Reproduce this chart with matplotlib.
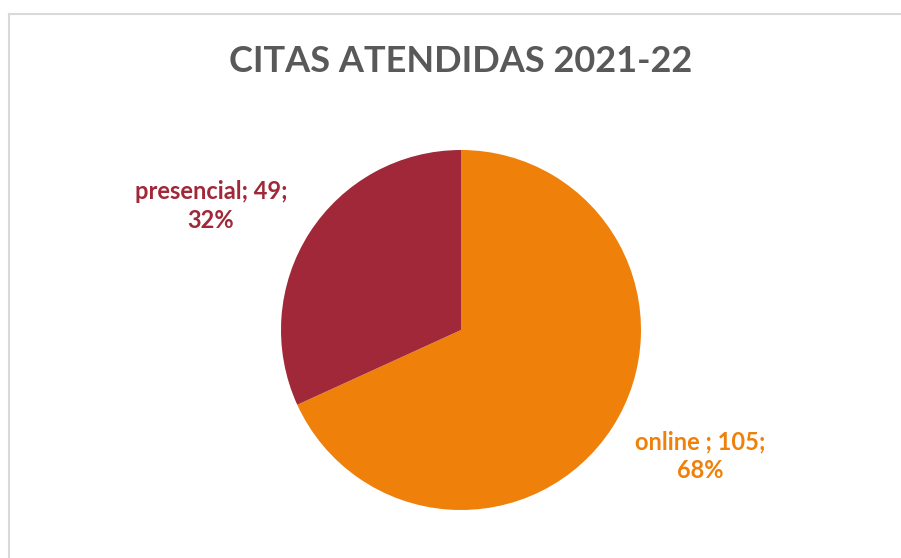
import matplotlib.pyplot as plt
from matplotlib.lines import Line2D

# Data
categories = ['online ', 'presencial']
values = [105, 49]
colors = ['#EF8009', '#A02838']

title = 'CITAS ATENDIDAS 2021-22'
font = 'Lato'

fig = plt.figure(figsize=(9.01, 5.58), dpi=100)
ax = fig.add_axes([0, 0, 1, 1])

# Pie in pixel-like data coordinates (y up)
ax.pie(values, colors=colors, startangle=90, counterclock=False,
       center=(461, 228), radius=180, wedgeprops=dict(linewidth=0))
ax.set_xlim(0, 901)
ax.set_ylim(0, 558)
ax.set_aspect('equal')
ax.axis('off')

# Data labels
total = sum(values)
label_pos = [(700, 102), (211, 352)]
for cat, val, col, (lx, ly) in zip(categories, values, colors, label_pos):
    pct = round(100 * val / total)
    ax.text(lx, ly, f'{cat}; {val};\n{pct}%', color=col, fontsize=17,
            fontweight='bold', family=font, ha='center', va='center',
            linespacing=1.32)

# Title
ax.text(461, 496, title, color='#595959', fontsize=26, fontweight='bold',
        family=font, ha='center', va='center')

# Chart frame (top and left edges visible)
fig.add_artist(Line2D([9 / 901, 1], [1 - 14 / 558, 1 - 14 / 558],
                      transform=fig.transFigure, color='#D9D9D9', lw=1.5))
fig.add_artist(Line2D([9 / 901, 9 / 901], [0, 1 - 14 / 558],
                      transform=fig.transFigure, color='#D9D9D9', lw=1.5))

fig.savefig('out.png', dpi=100, facecolor='white')
